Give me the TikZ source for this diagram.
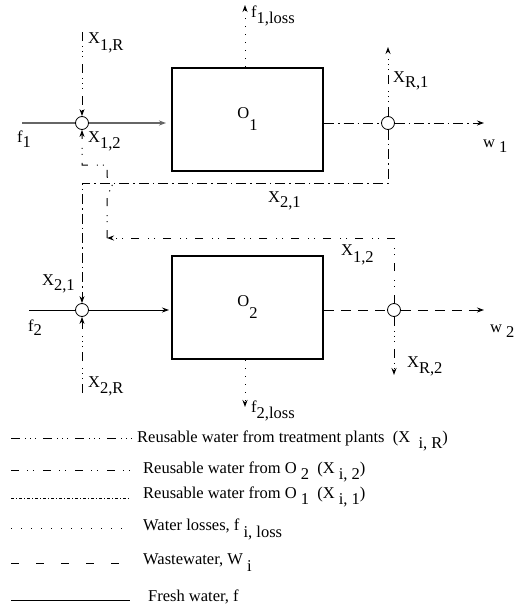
\documentclass[tikz,border=0pt]{standalone}
\usepackage{fontspec}
\setmainfont{Liberation Serif}
\usetikzlibrary{arrows.meta}
\newcommand{\dn}[2]{\raisebox{-#1}{#2}}
\begin{document}
\begin{tikzpicture}[x=1pt,y=-1pt,
  font=\fontsize{16.5}{19}\selectfont,
  >={Stealth[length=7pt,width=5pt]},
  lbl/.style={inner sep=0pt,anchor=base west},
  unit/.style={draw,line width=2pt,minimum width=151pt,minimum height=103pt,inner sep=0pt},
  mix/.style={circle,draw,minimum size=13pt,inner sep=0pt,line width=0.8pt},
  fresh/.style={line width=1pt},
  waste/.style={line width=1pt,dash pattern=on 10pt off 7pt},
  loss/.style={line width=1pt,dash pattern=on 1pt off 7pt},
  treat/.style={line width=1pt,dash pattern=on 9pt off 5pt on 1pt off 4pt on 1pt off 4pt on 1pt off 7pt},
  fromtwo/.style={line width=1pt,dash pattern=on 8pt off 8pt on 1pt off 5pt on 1pt off 9pt},
  fromone/.style={line width=1pt,dash pattern=on 10pt off 4pt on 1.5pt off 4pt},
  fromoneleg/.style={line width=1pt,dash pattern=on 3pt off 2pt on 1pt off 2pt}]
\useasboundingbox (0,0) rectangle (516,611);

% units
\node[unit] (O1) at (247.5,119.5) {O\dn{12pt}{1}};
\node[unit] (O2) at (247.5,307.5) {O\dn{12pt}{2}};

% mixers and splitters
\node[mix] (m1) at (82,123) {};
\node[mix] (m2) at (82,310) {};
\node[mix] (s1) at (388,123) {};
\node[mix] (s2) at (394,310) {};

% end points
\coordinate (f1s) at (22,123);
\coordinate (f2s) at (29,310);
\coordinate (x1rs) at (82,32);
\coordinate (x2rs) at (82,393);
\coordinate (xr1e) at (388,47);
\coordinate (xr2e) at (394,375);
\coordinate (w1e) at (484,123);
\coordinate (w2e) at (484,310);
\coordinate (l1e) at (245,5);
\coordinate (l2e) at (245,407);
\coordinate (a1) at (388,183);
\coordinate (a2) at (82,183);
\coordinate (b1) at (394,238);
\coordinate (b2) at (107,238);
\coordinate (b3) at (107,193);
\coordinate (b4) at (107,177);
\coordinate (b5) at (107,165);
\coordinate (b6) at (82,165);

% fresh water
\draw[fresh,gray!80!black,line width=1.3pt] (f1s) -- (m1);
\draw[fresh,gray!80!black,line width=1.3pt,->,shorten >=5pt] (m1) -- (m1 -| O1.west);
\draw[fresh] (f2s) -- (m2);
\draw[fresh,->,shorten >=2pt] (m2) -- (m2 -| O2.west);

% treatment plant water
\draw[treat,->] (x1rs) -- (m1.north);
\draw[treat,->] (x2rs) -- (m2.south);
\draw[treat,->] (s1.north) -- (xr1e);
\draw[treat,->] (s2.south) -- (xr2e);

% outlets
\draw[fromone] (s1 -| O1.east) -- (s1);
\draw[fromone,->] (s1) -- (w1e);
\draw[waste] (s2 -| O2.east) -- (s2);
\draw[waste,->] (s2) -- (w2e);

% losses
\draw[loss,->] ([xshift=-2.5pt]O1.north) -- (l1e);
\draw[loss,->] ([xshift=-2.5pt]O2.south) -- (l2e);

% X21: from O1 to O2
\draw[fromone,->] (s1.south) -- (a1) -- (a2) -- (m2.north);

% X12: from O2 to O1
\draw[fromtwo,->] (s2.north) -- (b1) -- (b2);
\draw[fromtwo,->] (b2) -- (b3) .. controls (114,189) and (114,181) .. (b4) -- (b5) -- (b6) -- (m1.south);

% labels
\node[lbl] (lx1r) at (88,43) {X\dn{7pt}{1,R}};
\node[lbl] (lx12a) at (88,142) {X\dn{6pt}{1,2}};
\node[lbl] (lf1) at (17,142) {f\dn{5pt}{1}};
\node[lbl] (lf1l) at (251,17) {f\dn{6pt}{1,loss}};
\node[lbl] (lxr1) at (393,82) {X\dn{5pt}{R,1}};
\node[lbl] (lw1) at (483,147) {w\ \dn{5pt}{1}};
\node[lbl] (lx21a) at (268,202) {X\dn{5pt}{2,1}};
\node[lbl] (lx12b) at (341,255) {X\dn{7pt}{1,2}};
\node[lbl] (lw2) at (490,332) {w\ \dn{5pt}{2}};
\node[lbl] (lxr2) at (407,367) {X\dn{6pt}{R,2}};
\node[lbl] (lf2l) at (251,412) {f\dn{6pt}{2,loss}};
\node[lbl] (lx21b) at (42,285) {X\dn{5pt}{2,1}};
\node[lbl] (lf2) at (28,331) {f\dn{4pt}{2}};
\node[lbl] (lx2r) at (88,387) {X\dn{6pt}{2,R}};

% legend
\coordinate (k1a) at (11,438); \coordinate (k1b) at (133,438);
\coordinate (k2a) at (11,470); \coordinate (k2b) at (130,470);
\coordinate (k3a) at (11,498); \coordinate (k3b) at (130,498);
\coordinate (k4a) at (11,528); \coordinate (k4b) at (130,528);
\coordinate (k5a) at (11,563); \coordinate (k5b) at (130,563);
\coordinate (k6a) at (11,600); \coordinate (k6b) at (130,600);
\draw[treat] (k1a) -- (k1b);
\draw[fromtwo] (k2a) -- (k2b);
\draw[fromoneleg] (k3a) -- (k3b);
\draw[loss,dash pattern=on 1pt off 9pt] (k4a) -- (k4b);
\draw[waste,dash pattern=on 8pt off 17pt] (k5a) -- (k5b);
\draw[fresh] (k6a) -- (k6b);
\node[lbl] (t1) at (137,442) {Reusable water from treatment plants\ \ (X\ \ \dn{6pt}{i, R})};
\node[lbl] (t2) at (143,473) {Reusable water from O\ \dn{6pt}{2}\ \ (X\ \dn{6pt}{i, 2})};
\node[lbl] (t3) at (143,498) {Reusable water from O\ \dn{6pt}{1}\ \ (X\ \dn{6pt}{i, 1})};
\node[lbl] (t4) at (143,530) {Water losses, f\ \dn{7pt}{i, loss}};
\node[lbl] (t5) at (143,564) {Wastewater, W\ \dn{7pt}{i}};
\node[lbl] (t6) at (148,601) {Fresh water, f};
\end{tikzpicture}
\end{document}
